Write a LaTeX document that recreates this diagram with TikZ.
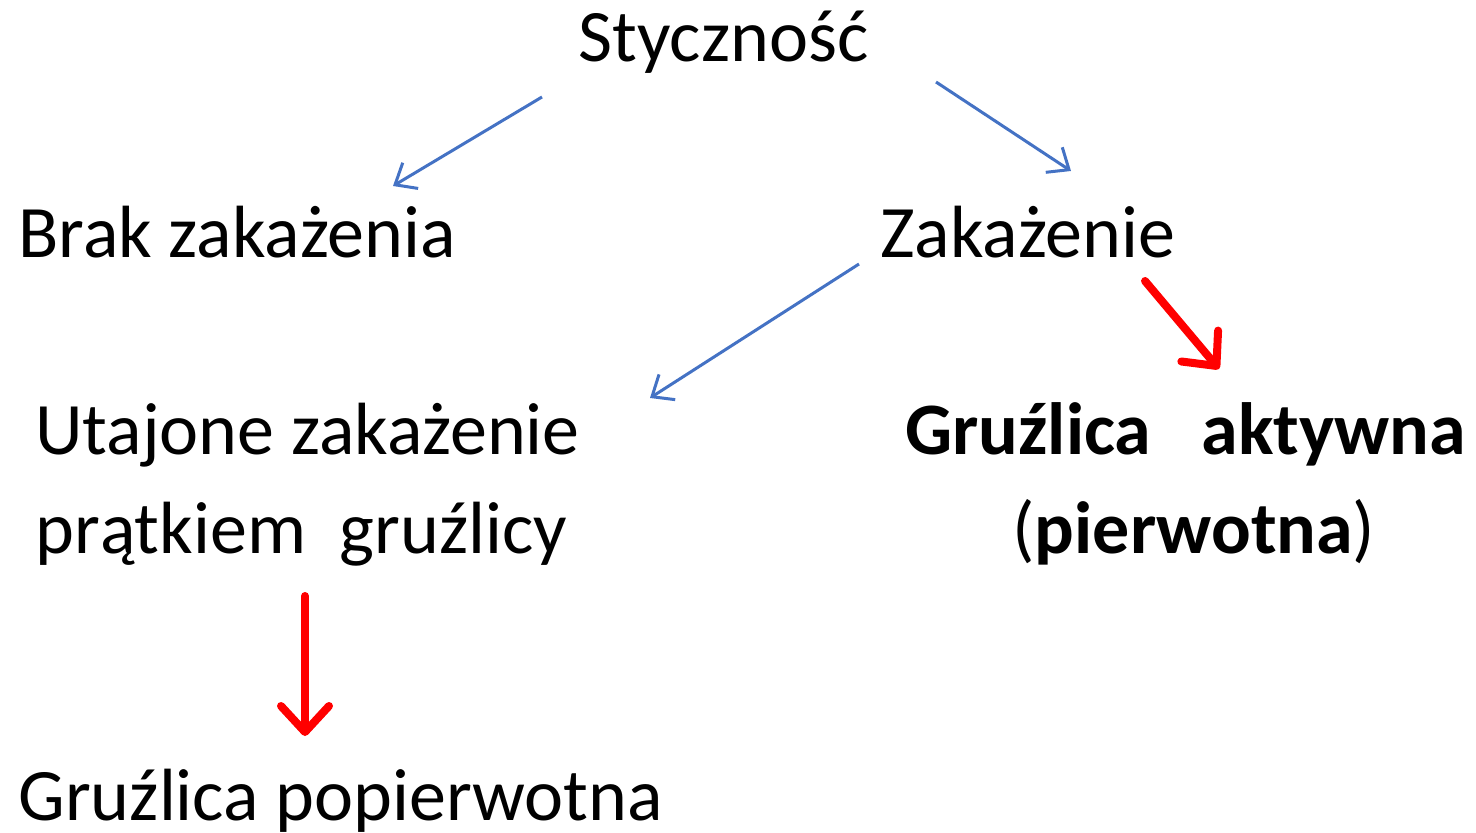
\documentclass[tikz,border=0pt]{standalone}
\usepackage{fontspec}
\setmainfont{Carlito}
\usetikzlibrary{arrows.meta}
\definecolor{arrblue}{RGB}{68,114,196}
\definecolor{arrred}{RGB}{255,0,0}
\begin{document}
\begin{tikzpicture}[x=0.5pt,y=-0.5pt,
  lbl/.style={inner sep=0pt,anchor=base west,font=\fontsize{37}{44}\selectfont},
  bluearr/.style={draw=arrblue,line width=1.5pt,-{Straight Barb[length=9pt,width=15pt,line width=1.5pt]}},
  redarr/.style={draw=arrred,line width=4pt,line cap=round,-{Straight Barb[length=13pt,width=24pt,line width=4pt,round]}}]
\useasboundingbox (0,0) rectangle (1476,833);
\node[lbl] (styc) at (578,62) {Styczność};
\node[lbl] (brak) at (18,258) {Brak zakażenia};
\node[lbl] (zak) at (880,258) {Zakażenie};
\node[lbl] (ut1) at (35,455) {Utajone zakażenie};
\node[lbl] (ut2) at (35,553) {prątkiem\ \ gruźlicy};
\node[lbl,font=\fontsize{37}{44}\selectfont\bfseries] (ga1) at (905,455) {Gruźlica\ \ \ aktywna};
\node[lbl] (ga2) at (1012,553) {(\textbf{pierwotna})};
\node[lbl] (gp) at (18,820) {Gruźlica popierwotna};
\coordinate (a1s) at (542,97);   \coordinate (a1e) at (393,186);
\coordinate (a2s) at (936,82);   \coordinate (a2e) at (1071,171);
\coordinate (a3s) at (859,264);  \coordinate (a3e) at (650,398);
\coordinate (a4s) at (1145,281); \coordinate (a4e) at (1219,369);
\coordinate (a5s) at (305,596);  \coordinate (a5e) at (305,736);
\draw[bluearr] (a1s) -- (a1e);
\draw[bluearr] (a2s) -- (a2e);
\draw[bluearr] (a3s) -- (a3e);
\draw[redarr] (a4s) -- (a4e);
\draw[redarr] (a5s) -- (a5e);
\end{tikzpicture}
\end{document}
